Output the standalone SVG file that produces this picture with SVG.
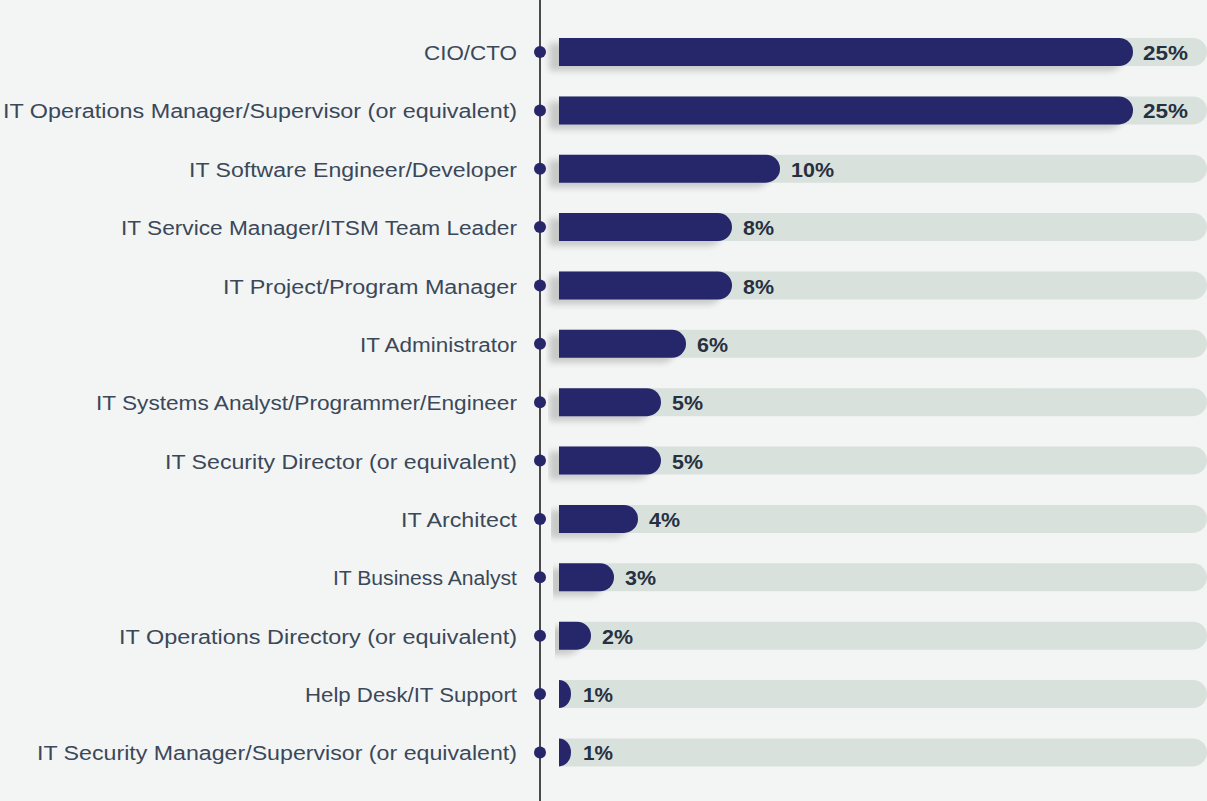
<svg xmlns="http://www.w3.org/2000/svg" width="1207" height="801" viewBox="0 0 1207 801">
<style>
.lbl{font-family:"Liberation Sans",Arial,sans-serif;font-size:19.5px;fill:#3b4859;text-anchor:end;transform:translateY(1px)}
.pct{font-family:"Liberation Sans",Arial,sans-serif;font-size:20px;font-weight:bold;fill:#26303f;transform:translateY(1px)}
.track{fill:#d9e1dd}
.bar{fill:#27266b}
.dot{fill:#27266b}
</style>
<defs>
<filter id="sh" x="-10%" y="-50%" width="120%" height="200%">
<feGaussianBlur in="SourceAlpha" stdDeviation="3"/>
<feOffset dx="-10" dy="5" result="b"/>
<feComponentTransfer><feFuncA type="linear" slope="0.18"/></feComponentTransfer>
<feMerge><feMergeNode/><feMergeNode in="SourceGraphic"/></feMerge>
</filter>
</defs>
<rect width="1207" height="801" fill="#f3f5f4"/>
<g id="connectors">
<line x1="540" y1="0" x2="540" y2="801" stroke="#111" stroke-width="1.5"/>
</g>
<g id="row1"><path class="track" d="M559,38H1193a14,14 0 0 1 0,28H559z"/><path class="bar" filter="url(#sh)" d="M559,38H1119a14,14 0 0 1 0,28H559z"/><circle class="dot" cx="540" cy="52" r="6"/><text class="lbl" x="517" y="59" textLength="93" lengthAdjust="spacingAndGlyphs">CIO/CTO</text><text class="pct" x="1143" y="59" textLength="45" lengthAdjust="spacingAndGlyphs">25%</text></g>
<g id="row2"><path class="track" d="M559,96.4H1193a14,14 0 0 1 0,28H559z"/><path class="bar" filter="url(#sh)" d="M559,96.4H1119a14,14 0 0 1 0,28H559z"/><circle class="dot" cx="540" cy="110.4" r="6"/><text class="lbl" x="517" y="117.4" textLength="514" lengthAdjust="spacingAndGlyphs">IT Operations Manager/Supervisor (or equivalent)</text><text class="pct" x="1143" y="117.4" textLength="45" lengthAdjust="spacingAndGlyphs">25%</text></g>
<g id="row3"><path class="track" d="M559,154.7H1193a14,14 0 0 1 0,28H559z"/><path class="bar" filter="url(#sh)" d="M559,154.7H766a14,14 0 0 1 0,28H559z"/><circle class="dot" cx="540" cy="168.7" r="6"/><text class="lbl" x="517" y="175.7" textLength="328" lengthAdjust="spacingAndGlyphs">IT Software Engineer/Developer</text><text class="pct" x="791" y="175.7" textLength="43" lengthAdjust="spacingAndGlyphs">10%</text></g>
<g id="row4"><path class="track" d="M559,213.1H1193a14,14 0 0 1 0,28H559z"/><path class="bar" filter="url(#sh)" d="M559,213.1H718a14,14 0 0 1 0,28H559z"/><circle class="dot" cx="540" cy="227.1" r="6"/><text class="lbl" x="517" y="234.1" textLength="396" lengthAdjust="spacingAndGlyphs">IT Service Manager/ITSM Team Leader</text><text class="pct" x="743" y="234.1" textLength="31" lengthAdjust="spacingAndGlyphs">8%</text></g>
<g id="row5"><path class="track" d="M559,271.5H1193a14,14 0 0 1 0,28H559z"/><path class="bar" filter="url(#sh)" d="M559,271.5H718a14,14 0 0 1 0,28H559z"/><circle class="dot" cx="540" cy="285.5" r="6"/><text class="lbl" x="517" y="292.5" textLength="294" lengthAdjust="spacingAndGlyphs">IT Project/Program Manager</text><text class="pct" x="743" y="292.5" textLength="31" lengthAdjust="spacingAndGlyphs">8%</text></g>
<g id="row6"><path class="track" d="M559,329.8H1193a14,14 0 0 1 0,28H559z"/><path class="bar" filter="url(#sh)" d="M559,329.8H672a14,14 0 0 1 0,28H559z"/><circle class="dot" cx="540" cy="343.8" r="6"/><text class="lbl" x="517" y="350.8" textLength="157" lengthAdjust="spacingAndGlyphs">IT Administrator</text><text class="pct" x="697" y="350.8" textLength="31" lengthAdjust="spacingAndGlyphs">6%</text></g>
<g id="row7"><path class="track" d="M559,388.2H1193a14,14 0 0 1 0,28H559z"/><path class="bar" filter="url(#sh)" d="M559,388.2H647a14,14 0 0 1 0,28H559z"/><circle class="dot" cx="540" cy="402.2" r="6"/><text class="lbl" x="517" y="409.2" textLength="421" lengthAdjust="spacingAndGlyphs">IT Systems Analyst/Programmer/Engineer</text><text class="pct" x="672" y="409.2" textLength="31" lengthAdjust="spacingAndGlyphs">5%</text></g>
<g id="row8"><path class="track" d="M559,446.6H1193a14,14 0 0 1 0,28H559z"/><path class="bar" filter="url(#sh)" d="M559,446.6H647a14,14 0 0 1 0,28H559z"/><circle class="dot" cx="540" cy="460.6" r="6"/><text class="lbl" x="517" y="467.6" textLength="352" lengthAdjust="spacingAndGlyphs">IT Security Director (or equivalent)</text><text class="pct" x="672" y="467.6" textLength="31" lengthAdjust="spacingAndGlyphs">5%</text></g>
<g id="row9"><path class="track" d="M559,504.9H1193a14,14 0 0 1 0,28H559z"/><path class="bar" filter="url(#sh)" d="M559,504.9H624a14,14 0 0 1 0,28H559z"/><circle class="dot" cx="540" cy="518.9" r="6"/><text class="lbl" x="517" y="525.9" textLength="116" lengthAdjust="spacingAndGlyphs">IT Architect</text><text class="pct" x="649" y="525.9" textLength="31" lengthAdjust="spacingAndGlyphs">4%</text></g>
<g id="row10"><path class="track" d="M559,563.3H1193a14,14 0 0 1 0,28H559z"/><path class="bar" filter="url(#sh)" d="M559,563.3H600a14,14 0 0 1 0,28H559z"/><circle class="dot" cx="540" cy="577.3" r="6"/><text class="lbl" x="517" y="584.3" textLength="184" lengthAdjust="spacingAndGlyphs">IT Business Analyst</text><text class="pct" x="625" y="584.3" textLength="31" lengthAdjust="spacingAndGlyphs">3%</text></g>
<g id="row11"><path class="track" d="M559,621.7H1193a14,14 0 0 1 0,28H559z"/><path class="bar" filter="url(#sh)" d="M559,621.7H577a14,14 0 0 1 0,28H559z"/><circle class="dot" cx="540" cy="635.7" r="6"/><text class="lbl" x="517" y="642.7" textLength="398" lengthAdjust="spacingAndGlyphs">IT Operations Directory (or equivalent)</text><text class="pct" x="602" y="642.7" textLength="31" lengthAdjust="spacingAndGlyphs">2%</text></g>
<g id="row12"><path class="track" d="M559,680H1193a14,14 0 0 1 0,28H559z"/><path class="bar" d="M559,680a12,14 0 0 1 0,28z"/><circle class="dot" cx="540" cy="694" r="6"/><text class="lbl" x="517" y="701" textLength="212" lengthAdjust="spacingAndGlyphs">Help Desk/IT Support</text><text class="pct" x="583" y="701" textLength="30" lengthAdjust="spacingAndGlyphs">1%</text></g>
<g id="row13"><path class="track" d="M559,738.4H1193a14,14 0 0 1 0,28H559z"/><path class="bar" d="M559,738.4a12,14 0 0 1 0,28z"/><circle class="dot" cx="540" cy="752.4" r="6"/><text class="lbl" x="517" y="759.4" textLength="480" lengthAdjust="spacingAndGlyphs">IT Security Manager/Supervisor (or equivalent)</text><text class="pct" x="583" y="759.4" textLength="30" lengthAdjust="spacingAndGlyphs">1%</text></g>
</svg>
